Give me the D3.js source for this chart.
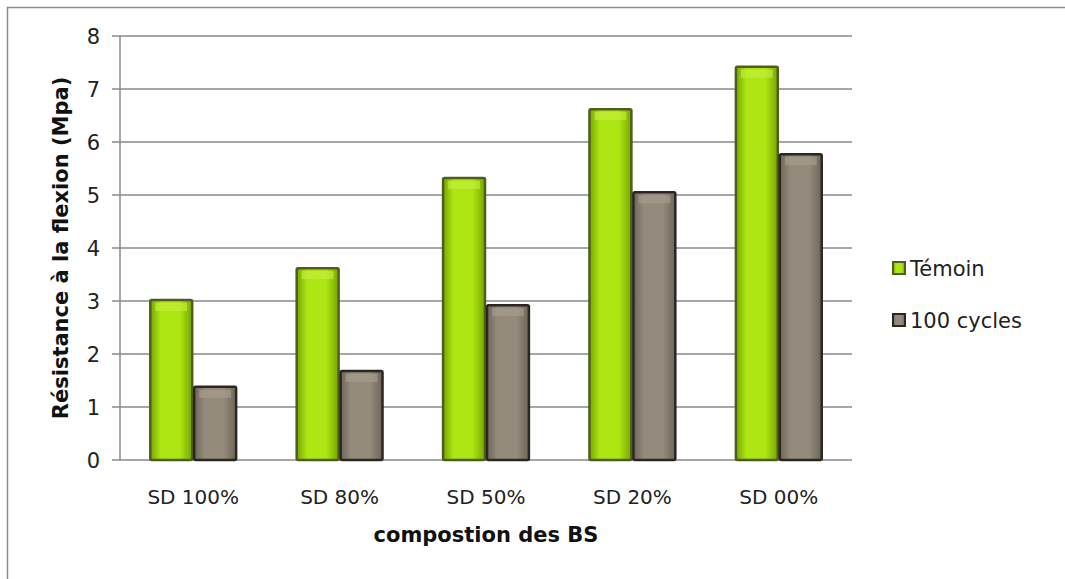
<!DOCTYPE html>
<html>
<head>
<meta charset="utf-8">
<script src="https://cdn.jsdelivr.net/npm/d3@7"></script>
<style>
  body { margin: 0; background: #fff; }
  svg text { font-family: "DejaVu Sans", sans-serif; }
</style>
</head>
<body>
<svg id="chart" width="1065" height="579"></svg>
<script>
// data
var categories = ["SD 100%", "SD 80%", "SD 50%", "SD 20%", "SD 00%"];
var seriesNames = ["Témoin", "100 cycles"];
var temoin = [3.02, 3.62, 5.32, 6.62, 7.42];
var cycles = [1.38, 1.68, 2.92, 5.05, 5.77];
var yTicks = [0, 1, 2, 3, 4, 5, 6, 7, 8];

var svg = d3.select("#chart");
var margin = {top: 36, left: 120, right: 213, bottom: 119};
var width = 1065, height = 579;
var innerW = width - margin.left - margin.right;
var innerH = height - margin.top - margin.bottom;

// outer frame (only top and left visible in the original)
svg.append("path").attr("d", "M7.5,579 V7.5 H1065").attr("fill", "none").attr("stroke", "#8c8c8c").attr("stroke-width", 1.5);

var defs = svg.append("defs");
function grad(id, edge, mid){
    var g = defs.append("linearGradient").attr("id", id).attr("x1", 0).attr("x2", 1).attr("y1", 0).attr("y2", 0);
    g.append("stop").attr("offset", "0%").attr("stop-color", edge);
    g.append("stop").attr("offset", "25%").attr("stop-color", mid);
    g.append("stop").attr("offset", "70%").attr("stop-color", mid);
    g.append("stop").attr("offset", "100%").attr("stop-color", edge);
}
grad("gGreen", "#78a600", "#aee614");
grad("gGray", "#6e665a", "#948b7c");

var x = d3.scaleBand().domain(categories).range([0, innerW]).paddingInner(0.4).paddingOuter(0.2);
var xs = d3.scaleBand().domain(seriesNames).range([0, x.bandwidth()]);
var y = d3.scaleLinear().domain([0, 8]).range([innerH, 0]);

var g = svg.append("g").attr("transform", "translate(" + margin.left + "," + margin.top + ")");

// gridlines
g.append("g").selectAll("line").data(yTicks).join("line")
    .attr("x1", -8).attr("x2", innerW)
    .attr("y1", d => y(d)).attr("y2", d => y(d))
    .attr("stroke", "#8a8a8a").attr("stroke-width", 1.5);

// y axis
g.append("line").attr("x1", 0).attr("x2", 0).attr("y1", 0).attr("y2", innerH)
    .attr("stroke", "#8a8a8a").attr("stroke-width", 1.5);
g.append("g").selectAll("text").data(yTicks).join("text")
    .attr("x", -20).attr("y", d => y(d)).attr("dy", "0.36em")
    .attr("text-anchor", "end").attr("font-size", 21).attr("fill", "#222")
    .text(d => d);

// bars
var data = categories.map((c, i) => ({cat: c, vals: [temoin[i], cycles[i]]}));
var fills = ["url(#gGreen)", "url(#gGray)"];
var strokes = ["#4f5d20", "#2b2620"];
var groups = g.selectAll(".grp").data(data).join("g").attr("class", "grp")
    .attr("transform", d => "translate(" + x(d.cat) + ",0)");
groups.selectAll("rect").data(d => d.vals.map((v, j) => ({name: seriesNames[j], v: v, j: j})))
    .join("rect")
    .attr("x", d => xs(d.name) + 1)
    .attr("width", xs.bandwidth() - 2)
    .attr("y", d => y(d.v))
    .attr("height", d => innerH - y(d.v))
    .attr("fill", d => fills[d.j])
    .attr("stroke", d => strokes[d.j])
    .attr("stroke-width", 2.5)
    .attr("rx", 1.5);
// bevel highlight on top
groups.selectAll(".hl").data(d => d.vals.map((v, j) => ({name: seriesNames[j], v: v, j: j})))
    .join("rect").attr("class", "hl")
    .attr("x", d => xs(d.name) + 6)
    .attr("width", xs.bandwidth() - 12)
    .attr("y", d => y(d.v) + 3)
    .attr("height", 8)
    .attr("fill", d => d.j === 0 ? "#c6f040" : "#a8a090")
    .attr("opacity", 0.6);

// x labels
g.append("g").selectAll("text").data(categories).join("text")
    .attr("x", d => x(d) + x.bandwidth() / 2).attr("y", innerH + 44)
    .attr("text-anchor", "middle").attr("font-size", 20).attr("fill", "#222")
    .text(d => d);

// axis titles
svg.append("text").attr("x", margin.left + innerW / 2).attr("y", 542)
    .attr("text-anchor", "middle").attr("font-size", 21).attr("font-weight", "bold").attr("fill", "#111")
    .text("compostion des BS");
svg.append("text").attr("transform", "translate(68," + (margin.top + innerH / 2) + ") rotate(-90)")
    .attr("text-anchor", "middle").attr("font-size", 21).attr("font-weight", "bold").attr("fill", "#111")
    .text("Résistance à la flexion (Mpa)");

// legend
var leg = svg.append("g").attr("transform", "translate(893,262)");
seriesNames.forEach(function(n, i){
    leg.append("rect").attr("x", 0).attr("y", i * 52).attr("width", 12).attr("height", 12)
        .attr("fill", fills[i]).attr("stroke", strokes[i]).attr("stroke-width", 2);
    leg.append("text").attr("x", 17).attr("y", i * 52 + 6).attr("dy", "0.36em")
        .attr("font-size", 21).attr("fill", "#222").text(n);
});
</script>
</body>
</html>
